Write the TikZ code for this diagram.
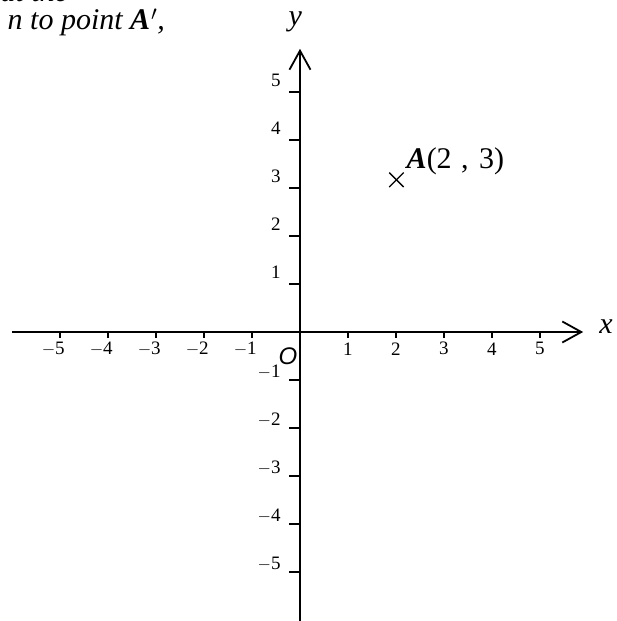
\documentclass[tikz,border=0pt]{standalone}
\usepackage{fontspec}
\setmainfont{Liberation Serif}
\newfontfamily\originfont{Liberation Sans}
\usetikzlibrary{arrows.meta}

\begin{document}
\begin{tikzpicture}[
    x=48pt, y=48pt,
    axisline/.style={line width=1.8pt, -{Straight Barb[length=19pt,width=21pt,line width=1.8pt]}},
    tickmark/.style={line width=1.8pt},
    ticklabel/.style={inner sep=0pt, font=\fontsize{19}{19}\selectfont},
    biglabel/.style={inner sep=0pt, font=\fontsize{30}{30}\selectfont}
]
\useasboundingbox (-6.25,-6.021) rectangle (6.604,6.917);

% text of the question, cut at the edge
\node[biglabel, anchor=base east] (qline1) at (-4.83,6.89) {\itshape at the};
\node[biglabel, anchor=base east] (qline2) at (-2.81,6.31) {\itshape n to point \textbf{A\kern1pt$'$},};

% axes
\coordinate (xfrom) at (-6.0,0);
\coordinate (xto) at (5.9,0);
\coordinate (yfrom) at (0,-6.2);
\coordinate (yto) at (0,5.9);
\draw[axisline] (xfrom) -- (xto);
\draw[axisline] (yfrom) -- (yto);
\node[biglabel] (xlab) at (6.375,0.12) {\itshape x};
\node[biglabel] (ylab) at (-0.1,6.47) {\itshape y};
\node[inner sep=0pt, font=\fontsize{24}{24}\selectfont\originfont\itshape] (orig) at (-0.25,-0.5) {O};

% ticks and numbers
\foreach \k in {1,...,5} {
    \draw[tickmark] (\k,0) -- (\k,-0.12);
    \draw[tickmark] (-\k,0) -- (-\k,-0.12);
    \draw[tickmark] (-0.23,\k) -- (0,\k);
    \draw[tickmark] (-0.23,-\k) -- (0,-\k);
    \node[ticklabel] (xp\k) at (\k,-0.35) {\k};
    \node[ticklabel] (xn\k) at (-\k,-0.35) {\llap{$-$}\k};
    \node[ticklabel, anchor=east] (yp\k) at (-0.4,\k+0.24) {\k};
    \node[ticklabel, anchor=east] (yn\k) at (-0.4,-\k+0.17) {\llap{$-$}\k};
}

% point A
\coordinate (ptA) at (2.01,3.17);
\draw[line width=1.3pt] (ptA) +(-0.15,-0.15) -- +(0.15,0.15);
\draw[line width=1.3pt] (ptA) +(-0.15,0.15) -- +(0.15,-0.15);
\node[biglabel, anchor=base west] (labA) at (2.22,3.40) {\textbf{\textit{A}}(2\hspace{2pt} ,\hspace{3pt} 3)};
\end{tikzpicture}
\end{document}
